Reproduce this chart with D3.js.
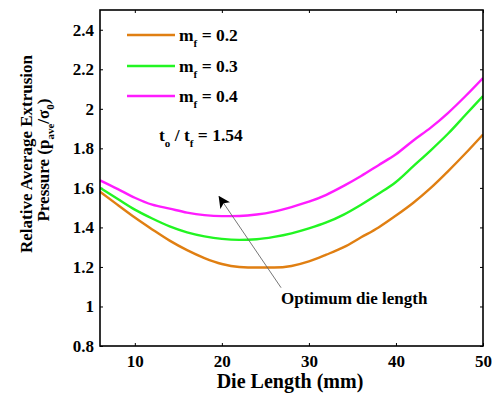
<!DOCTYPE html>
<html><head><meta charset="utf-8">
<script src="https://cdn.jsdelivr.net/npm/d3@7"></script>
<style>body{margin:0;background:#fff}svg{display:block}text{font-family:"Liberation Serif","Times New Roman",serif;font-weight:bold}</style>
</head><body><svg id="c" width="492" height="394"></svg>
<script>
const dieLength = [6,8,10,12,14,16,18,20,22,24,26,28,30,32,34,36,38,40,42,44,46,48,50];
const mf02 = [1.58,1.515,1.45,1.39,1.333,1.285,1.245,1.215,1.20,1.197,1.197,1.205,1.228,1.262,1.30,1.35,1.40,1.46,1.525,1.60,1.685,1.775,1.87];
const mf03 = [1.60,1.545,1.49,1.445,1.405,1.375,1.355,1.342,1.337,1.34,1.352,1.37,1.395,1.425,1.465,1.515,1.57,1.63,1.71,1.79,1.875,1.97,2.065];
const mf04 = [1.638,1.595,1.55,1.515,1.495,1.475,1.462,1.457,1.458,1.465,1.48,1.503,1.53,1.565,1.61,1.66,1.715,1.77,1.84,1.905,1.98,2.065,2.156];
const seriesNames = ["0.2","0.3","0.4"];
const seriesColors = ["#E07F12","#22F522","#FF1CFF"];
const xTicks = [10,20,30,40,50];
const yTicks = [0.8,1,1.2,1.4,1.6,1.8,2,2.2,2.4];

const svg = d3.select("#c");
const L=100, R=483, T=10, B=346;
const x = d3.scaleLinear().domain([6,50]).range([L,R]);
const y = d3.scaleLinear().domain([0.8,2.5]).range([B,T]);

const fmt = d => String(d);
const gx = svg.append("g").attr("transform",`translate(0,${B})`)
  .call(d3.axisBottom(x).tickValues(xTicks).tickSizeInner(-3).tickSizeOuter(0).tickPadding(7).tickFormat(fmt));
const gxt = svg.append("g").attr("transform",`translate(0,${T})`)
  .call(d3.axisTop(x).tickValues(xTicks).tickSizeInner(-3).tickSizeOuter(0).tickFormat(""));
const gy = svg.append("g").attr("transform",`translate(${L},0)`)
  .call(d3.axisLeft(y).tickValues(yTicks).tickSizeInner(-3).tickSizeOuter(0).tickPadding(6).tickFormat(fmt));
const gyr = svg.append("g").attr("transform",`translate(${R},0)`)
  .call(d3.axisRight(y).tickValues(yTicks).tickSizeInner(-3).tickSizeOuter(0).tickFormat(""));
[gx,gxt,gy,gyr].forEach(g=>{
  g.select(".domain").remove();
  g.selectAll(".tick line").attr("stroke","#000").attr("stroke-width",1);
  g.selectAll("text").attr("font-size",17).attr("fill","#000")
   .style("font-family","'Liberation Serif',serif").style("font-weight","bold");
});
gx.selectAll("text").attr("dy","0.85em");

const data = [mf02, mf03, mf04];
const line = d3.line().x((d,i)=>x(dieLength[i])).y(d=>y(d)).curve(d3.curveMonotoneX);
svg.append("clipPath").attr("id","cp").append("rect").attr("x",L).attr("y",T).attr("width",R-L).attr("height",B-T);
svg.append("g").attr("clip-path","url(#cp)").selectAll("path").data(data).join("path")
  .attr("d",line).attr("fill","none").attr("stroke",(d,i)=>seriesColors[i]).attr("stroke-width",2.4);

svg.append("rect").attr("x",L).attr("y",T).attr("width",R-L).attr("height",B-T)
  .attr("fill","none").attr("stroke","#000").attr("stroke-width",1.6);

const legY = [35,66,96];
seriesNames.forEach((n,i)=>{
  svg.append("line").attr("x1",127).attr("x2",175).attr("y1",legY[i]).attr("y2",legY[i])
    .attr("stroke",seriesColors[i]).attr("stroke-width",2.4);
  const t = svg.append("text").attr("x",179).attr("y",legY[i]+6).attr("font-size",17.5).attr("fill","#000");
  t.append("tspan").text("m");
  t.append("tspan").attr("font-size",11).attr("dy",6).text("f");
  t.append("tspan").attr("dy",-6).text(" = "+n);
});
const tt = svg.append("text").attr("x",159).attr("y",141).attr("font-size",17.5).attr("fill","#000");
tt.append("tspan").text("t");
tt.append("tspan").attr("font-size",11).attr("dy",6).text("o");
tt.append("tspan").attr("dy",-6).text(" / t");
tt.append("tspan").attr("font-size",11).attr("dy",6).text("f");
tt.append("tspan").attr("dy",-6).text(" = 1.54");

svg.append("defs").append("marker").attr("id","ah").attr("viewBox","0 0 10 10").attr("refX",9).attr("refY",5)
  .attr("markerWidth",12).attr("markerHeight",12).attr("markerUnits","userSpaceOnUse").attr("orient","auto")
  .append("path").attr("d","M0,0 L10,5 L0,10 L2.5,5 Z").attr("fill","#000");
svg.append("line").attr("x1",x(26.8)).attr("y1",y(1.095)).attr("x2",x(19.7)).attr("y2",y(1.555))
  .attr("stroke","#666").attr("stroke-width",0.9).attr("marker-end","url(#ah)");
svg.append("text").attr("x",281).attr("y",304).attr("font-size",17).attr("fill","#000").text("Optimum die length");

svg.append("text").attr("x",290).attr("y",388).attr("text-anchor","middle").attr("font-size",20).attr("fill","#000").text("Die Length (mm)");
const yl = svg.append("text").attr("transform","translate(32,154) rotate(-90)").attr("text-anchor","middle").attr("font-size",17).attr("fill","#000");
yl.append("tspan").attr("x",0).attr("y",0).text("Relative Average Extrusion");
const yl2 = svg.append("text").attr("transform","translate(49,160) rotate(-90)").attr("text-anchor","middle").attr("font-size",17).attr("fill","#000");
yl2.append("tspan").text("Pressure (p");
yl2.append("tspan").attr("font-size",11).attr("dy",5).text("ave");
yl2.append("tspan").attr("dy",-5).text("/σ");
yl2.append("tspan").attr("font-size",11).attr("dy",5).text("0");
yl2.append("tspan").attr("dy",-5).text(")");
</script></body></html>
